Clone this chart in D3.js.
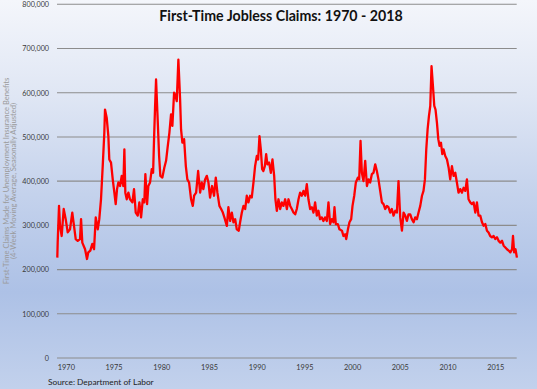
<!DOCTYPE html>
<html>
<head>
<meta charset="utf-8">
<script src="https://cdn.jsdelivr.net/npm/d3@7"></script>
<style>
  html, body { margin: 0; padding: 0; background: #ffffff; }
  svg { display: block; }
</style>
</head>
<body>
<div id="chart"></div>
<script>
// ---- Data ----
const titleText = "First-Time Jobless Claims: 1970 - 2018";
const sourceText = "Source: Department of Labor";
const yTitleLines = ["First-Time Claims Made for Unemployment Insurance Benefits",
                     "(4-Week Moving Average, Seasonally Adjusted)"];

// decimal years
const years = [
1970.00,1970.04,1970.18,1970.28,1970.46,1970.67,1970.88,1971.09,1971.33,1971.57,1971.75,1971.93,
1972.14,1972.38,1972.49,1972.62,1972.91,1973.11,1973.25,1973.46,1973.67,1973.85,1974.03,1974.24,
1974.40,1974.58,1974.76,1974.93,1975.00,1975.18,1975.35,1975.45,1975.63,1975.81,1975.98,1976.12,
1976.26,1976.40,1976.58,1976.75,1976.92,1977.03,1977.13,1977.28,1977.45,1977.62,1977.87,1978.04,
1978.22,1978.43,1978.60,1978.78,1978.96,1979.12,1979.23,1979.41,1979.54,1979.72,1979.90,1980.04,
1980.14,1980.25,1980.35,1980.49,1980.67,1980.80,1981.01,1981.22,1981.40,1981.58,1981.75,1981.92,
1982.06,1982.24,1982.34,1982.52,1982.69,1982.87,1982.97,1983.11,1983.29,1983.47,1983.63,1983.81,
1984.02,1984.20,1984.34,1984.55,1984.76,1984.97,1985.14,1985.31,1985.49,1985.67,1985.84,1986.01,
1986.22,1986.43,1986.61,1986.78,1986.99,1987.17,1987.35,1987.51,1987.77,1987.93,1988.11,1988.29,
1988.46,1988.64,1988.81,1989.02,1989.16,1989.34,1989.51,1989.69,1989.86,1990.03,1990.21,1990.38,
1990.56,1990.73,1990.91,1991.05,1991.19,1991.33,1991.47,1991.60,1991.75,1991.89,1992.02,1992.20,
1992.38,1992.55,1992.73,1992.86,1993.01,1993.18,1993.36,1993.53,1993.70,1993.88,1994.06,1994.23,
1994.41,1994.58,1994.75,1994.93,1995.10,1995.28,1995.45,1995.63,1995.80,1995.98,1996.15,1996.32,
1996.50,1996.68,1996.85,1997.02,1997.20,1997.37,1997.54,1997.72,1997.89,1998.06,1998.25,1998.42,
1998.59,1998.77,1998.94,1999.05,1999.19,1999.40,1999.57,1999.83,1999.99,2000.17,2000.28,2000.46,
2000.62,2000.80,2000.94,2001.12,2001.29,2001.50,2001.64,2001.78,2001.92,2002.09,2002.27,2002.45,
2002.62,2002.79,2002.97,2003.14,2003.32,2003.49,2003.66,2003.84,2004.02,2004.19,2004.37,2004.54,
2004.71,2004.89,2005.06,2005.24,2005.42,2005.59,2005.76,2005.94,2006.12,2006.29,2006.46,2006.64,
2006.81,2006.99,2007.16,2007.34,2007.51,2007.69,2007.86,2008.04,2008.22,2008.38,2008.53,2008.67,
2008.81,2008.95,2009.09,2009.22,2009.37,2009.51,2009.64,2009.79,2009.93,2010.06,2010.21,2010.35,
2010.48,2010.66,2010.84,2011.01,2011.18,2011.36,2011.53,2011.71,2011.88,2012.05,2012.23,2012.41,
2012.58,2012.76,2012.93,2013.10,2013.28,2013.46,2013.63,2013.81,2013.98,2014.15,2014.33,2014.51,
2014.68,2014.86,2015.03,2015.20,2015.37,2015.55,2015.73,2015.90,2016.08,2016.25,2016.43,2016.61,
2016.78,2016.96,2017.13,2017.30,2017.48,2017.66,2017.76,2017.88,2018.02,2018.17
];
// claims, thousands
const claims = [
227,261,344,299,276,337,314,284,291,329,299,269,
265,269,314,261,246,224,239,243,258,246,318,291,
314,359,434,510,562,543,502,449,442,404,374,348,
382,397,389,412,389,472,374,359,374,359,352,382,
329,322,352,318,359,352,416,348,389,397,427,419,
495,570,630,555,457,412,408,431,446,480,510,551,
525,600,596,581,675,585,517,487,495,434,404,397,
359,344,367,374,423,374,397,382,404,412,397,363,
389,367,408,374,344,337,329,318,299,341,310,329,
307,314,291,288,307,329,344,337,367,352,367,363,
397,434,457,449,502,472,427,423,434,461,438,442,
419,449,412,359,333,359,337,352,344,359,337,359,
344,337,329,325,337,359,374,367,378,367,393,359,
337,341,329,352,322,333,314,318,310,318,310,352,
303,314,307,341,303,303,291,288,276,280,269,291,
307,314,344,367,397,408,404,491,419,400,446,389,
404,397,416,419,438,423,404,378,352,348,337,344,
341,329,337,322,333,329,400,318,288,329,322,310,
325,325,314,307,318,314,329,344,367,378,404,472,
517,547,570,660,615,570,562,532,495,480,487,461,
472,457,449,431,404,434,412,419,397,374,382,374,
385,378,404,359,352,348,352,329,352,322,322,307,
299,303,288,284,276,273,276,269,273,265,261,265,
254,250,246,243,239,246,276,239,246,227
];

const yTicks = [0, 100, 200, 300, 400, 500, 600, 700, 800];
const yTickLabels = ["0","100,000","200,000","300,000","400,000","500,000","600,000","700,000","800,000"];
const xTicks = [1970, 1975, 1980, 1985, 1990, 1995, 2000, 2005, 2010, 2015];
const xTickLabels = ["1970","1975","1980","1985","1990","1995","2000","2005","2010","2015"];

// ---- Layout ----
const W = 537, H = 389;
const FONT = "Lato, 'Open Sans', sans-serif";

const svg = d3.select("#chart").append("svg")
  .attr("width", W).attr("height", H);

const defs = svg.append("defs");
const grad = defs.append("linearGradient")
  .attr("id", "bg").attr("x1", 0).attr("y1", 0).attr("x2", 0).attr("y2", 1);
[["0%","#f4f6fb"],["25%","#dfe6f4"],["50%","#c4d2ec"],["75%","#adc1e6"],["100%","#c2d1ec"]]
  .forEach(([o,c]) => grad.append("stop").attr("offset", o).attr("stop-color", c));

svg.append("rect").attr("width", W).attr("height", H).attr("fill", "url(#bg)");

const x = d3.scaleLinear().domain([1970, 2018.2]).range([57.3, 517.2]);
const y = d3.scaleLinear().domain([0, 800]).range([358, 4.3]);

// gridlines
svg.append("g")
  .selectAll("line").data(yTicks).join("line")
  .attr("x1", 57).attr("x2", 516.7)
  .attr("y1", d => y(d)).attr("y2", d => y(d))
  .attr("stroke", "#8c8c8c").attr("stroke-width", 1.1);

// y axis labels
const yAxis = d3.axisLeft(y).tickValues(yTicks)
  .tickFormat((d, i) => yTickLabels[i]).tickSize(0).tickPadding(0);
const gy = svg.append("g").attr("transform", "translate(49,0)").call(yAxis);
gy.select(".domain").remove();
gy.selectAll("text").attr("font-family", FONT).attr("font-size", 7.2)
  .attr("fill", "#3a3a3a");

// x axis labels
const xAxis = d3.axisBottom(x).tickValues(xTicks)
  .tickFormat((d, i) => xTickLabels[i]).tickSize(0).tickPadding(0);
const gx = svg.append("g").attr("transform", "translate(0,364.5)").call(xAxis);
gx.select(".domain").remove();
gx.selectAll("text").attr("font-family", FONT).attr("font-size", 7.4)
  .attr("fill", "#3a3a3a").attr("text-anchor", "start").attr("dx", 0);

// line
const line = d3.line()
  .x((d, i) => x(years[i]))
  .y((d, i) => y(claims[i]));
svg.append("path")
  .datum(claims)
  .attr("d", line)
  .attr("fill", "none")
  .attr("stroke", "#ff0000")
  .attr("stroke-width", 2.3)
  .attr("stroke-linejoin", "round");

// title
svg.append("text")
  .attr("x", 281).attr("y", 21)
  .attr("text-anchor", "middle")
  .attr("font-family", FONT).attr("font-weight", "bold").attr("font-size", 14.2)
  .attr("fill", "#111").text(titleText);

// y axis title (rotated, two lines)
const yt = svg.append("text")
  .attr("transform", "translate(9.3,181) rotate(-90)")
  .attr("text-anchor", "middle")
  .attr("font-family", FONT).attr("font-size", 7.6)
  .attr("fill", "#9a9a9a");
yt.append("tspan").attr("x", 0).attr("dy", 0).text(yTitleLines[0]);
yt.append("tspan").attr("x", 0).attr("dy", 6.6).text(yTitleLines[1]);

// source
svg.append("text")
  .attr("x", 48).attr("y", 384.5)
  .attr("font-family", FONT).attr("font-size", 8.3)
  .attr("fill", "#222").text(sourceText);
</script>
</body>
</html>
